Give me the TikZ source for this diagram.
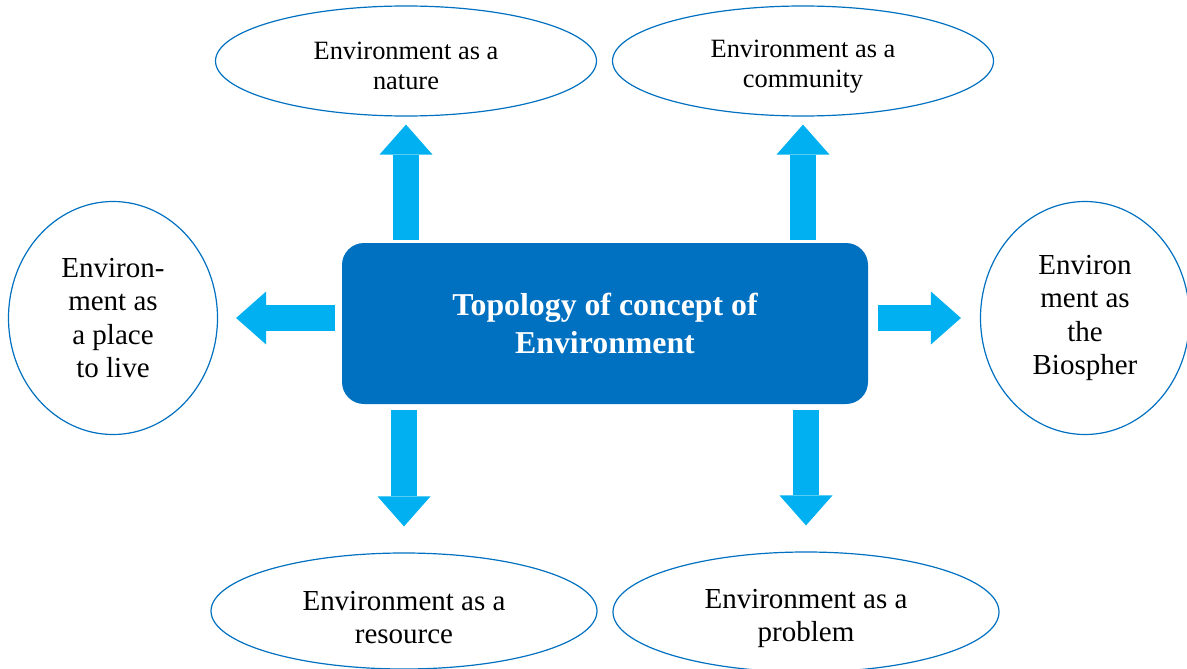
\documentclass[tikz,border=0pt]{standalone}
\usepackage{fontspec}
\setmainfont{Liberation Serif}
\usetikzlibrary{shapes.geometric,arrows.meta}
\definecolor{coreblue}{RGB}{0,112,192}
\definecolor{leadblue}{RGB}{0,176,240}

\begin{document}
\begin{tikzpicture}
  [x=1pt, y=-1pt,
   inner sep=0pt,
   core/.style={rectangle,rounded corners=22pt,fill=coreblue,text=white,align=center,
     minimum width=526pt,minimum height=161pt,font=\fontsize{31.8}{38.5}\selectfont\bfseries},
   view/.style={ellipse,draw=coreblue,line width=1.2pt,align=center,text height=58pt,
     minimum width=381pt,minimum height=110pt,font=\fontsize{26.4}{30}\selectfont},
   sideview/.style={ellipse,draw=coreblue,line width=1.2pt,align=center,
     minimum width=209pt,minimum height=233pt,font=\fontsize{29}{33.3}\selectfont},
   lead/.style={draw=leadblue,line width=26pt,
     -{Triangle[width=53pt,length=30pt,line width=0pt]}}]
  \useasboundingbox (0,0) rectangle (1187,669);
  \node at (605,323.5) (topic) [core] {Topology of concept of\\Environment};
  \node at (406,61) (nature) [view] {Environment as a\\nature};
  \node at (803,61) (community) [view] {Environment as a\\community};
  \node at (113,318) (place) [sideview] {Environ-\\ment as\\a place\\to live};
  \node at (1085,318) (biosphere) [sideview] {Environ\\ment as\\the\\Biospher};
  \node at (404,611) (resource) [view,minimum width=386pt,minimum height=116pt,
    text height=65pt,font=\fontsize{29}{33}\selectfont] {Environment as a\\resource};
  \node at (806,612) (problem) [view,minimum width=386pt,minimum height=120pt,
    text height=65pt,font=\fontsize{29}{33}\selectfont] {Environment as a\\problem};
  % block arrows out of the central box
  \draw [lead,shorten <=3pt,shorten >=8pt] (topic.north -| nature.south) -- (nature.south);
  \draw [lead,shorten <=3pt,shorten >=8pt] (topic.north -| community.south) -- (community.south);
  \draw [lead,shorten <=7pt,shorten >=18pt] (topic.west |- place.east) -- (place.east);
  \draw [lead,shorten <=10pt,shorten >=19pt] (topic.east |- biosphere.west) -- (biosphere.west);
  \draw [lead,shorten <=6pt,shorten >=26pt] (topic.south -| resource.north) -- (resource.north);
  \draw [lead,shorten <=6pt,shorten >=26pt] (topic.south -| problem.north) -- (problem.north);
\end{tikzpicture}
\end{document}
